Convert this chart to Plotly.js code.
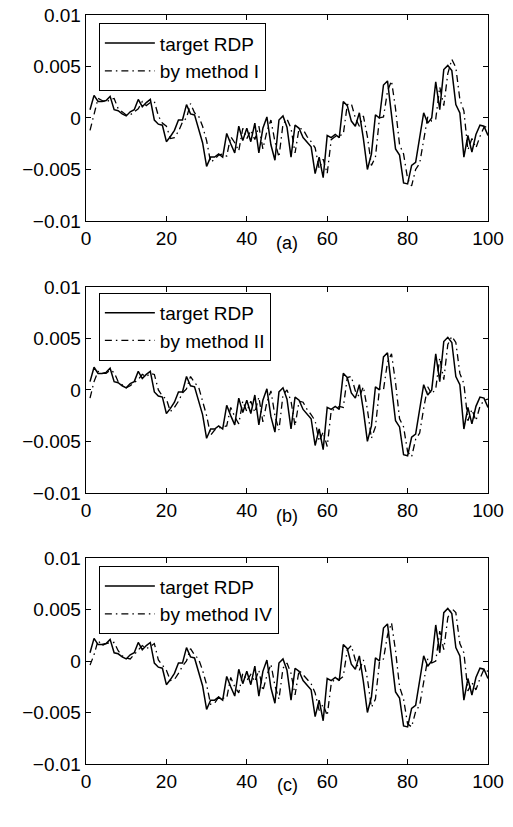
<!DOCTYPE html>
<html>
<head>
<meta charset="utf-8">
<script src="https://cdn.plot.ly/plotly-3.0.1.min.js"></script>
<style>
  html, body { margin: 0; padding: 0; background: #fff; }
  #chart { width: 513px; height: 827px; }
</style>
</head>
<body>
<div id="chart"></div>
<script>
// Sample index 1..100
const steps = Array.from({ length: 100 }, (_, i) => i + 1);

// Target RDP series (units of 1e-3)
const targetRDP = [
  0.8, 2.2, 1.6, 1.6, 1.7, 2.1, 0.8, 0.7, 0.4, 0.2,
  0.6, 0.8, 1.8, 1.1, 1.5, 1.8, -0.2, -0.6, -0.7, -2.3,
  -1.8, -1.2, -0.2, -0.2, 1.3, 0.4, 0.3, -1.0, -2.4, -4.7,
  -3.8, -3.8, -3.5, -3.8, -1.5, -2.5, -3.4, -0.8, -2.2, -1.0,
  -2.3, -0.5, -3.4, -1.0, 0.1, -2.6, -4.1, -0.2, 0.2, -0.9,
  -3.8, -0.7, -1.0, -1.9, -2.3, -2.8, -5.4, -3.8, -5.8, -1.7,
  -1.9, -1.6, -1.9, 1.6, 1.2, -0.3, -0.8, 0.5, -2.0, -5.0,
  -3.5, 0.3, 0.0, 3.2, 3.6, 0.1, -3.0, -3.6, -6.3, -6.4,
  -4.6, -4.3, -1.7, 0.5, -0.5, 0.0, 3.5, 0.8, 4.7, 5.1,
  4.6, 1.3, 0.5, -3.8, -1.7, -3.3, -1.6, -0.7, -0.8, -1.7
];

// Predictions (units of 1e-3)
const methodI = [
  -1.2, 0.5, 1.9, 1.7, 1.5, 1.8, 1.9, 0.9, 0.6, 0.3,
  0.3, 0.6, 0.9, 1.6, 1.2, 1.5, 1.6, 0.2, -0.5, -0.8,
  -2.0, -1.9, -1.3, -0.4, 0.0, 1.4, 0.5, 0.2, -0.8, -2.2,
  -4.3, -4.0, -3.6, -3.5, -3.7, -1.8, -2.4, -3.2, -1.0, -2.0,
  -1.2, -2.1, -0.8, -3.0, -1.3, -0.2, -2.3, -3.8, -0.6, -0.1,
  -1.0, -3.4, -1.0, -1.1, -1.8, -2.3, -2.9, -4.9, -4.0, -5.4,
  -2.1, -1.8, -1.7, -1.6, 1.3, 1.4, 0.0, -0.8, 0.2, -1.8,
  -4.6, -3.8, 0.0, 0.1, 2.6, 3.6, 0.9, -2.6, -3.5, -5.9,
  -6.6, -5.0, -4.4, -2.0, 0.1, -0.3, -0.1, 3.0, 1.2, 4.3,
  5.7, 4.9, 1.8, 0.7, -3.1, -2.0, -2.9, -1.8, -0.9, -0.8
];

const methodII = [
  -0.8, 0.8, 1.8, 1.6, 1.6, 1.9, 1.7, 0.8, 0.5, 0.2,
  0.4, 0.7, 1.0, 1.5, 1.3, 1.6, 1.5, 0.0, -0.6, -0.9,
  -2.1, -1.7, -1.1, -0.3, 0.1, 1.3, 0.7, 0.3, -1.0, -2.5,
  -4.4, -3.9, -3.7, -3.6, -3.5, -1.7, -2.6, -3.3, -1.1, -2.1,
  -1.1, -2.2, -0.7, -3.1, -1.2, -0.1, -2.5, -3.9, -0.5, 0.0,
  -1.1, -3.5, -1.1, -1.2, -1.9, -2.4, -3.0, -5.0, -4.1, -5.5,
  -2.0, -1.9, -1.6, -1.7, 1.2, 1.3, -0.1, -0.7, 0.3, -1.9,
  -4.7, -3.6, 0.1, 0.0, 2.7, 3.5, 0.7, -2.8, -3.6, -6.0,
  -6.5, -4.8, -4.2, -1.8, 0.3, -0.4, 0.1, 3.1, 1.0, 4.4,
  5.2, 4.6, 1.6, 0.6, -3.0, -1.9, -3.0, -1.6, -1.0, -0.9
];

const methodIV = [
  -0.4, 0.6, 2.0, 1.5, 1.7, 1.8, 1.8, 1.0, 0.5, 0.3,
  0.2, 0.6, 1.1, 1.5, 1.2, 1.4, 1.7, 0.1, -0.4, -0.9,
  -1.9, -1.8, -1.2, -0.5, 0.0, 1.2, 0.6, 0.2, -0.9, -2.3,
  -4.2, -4.1, -3.5, -3.6, -3.6, -1.6, -2.5, -3.1, -1.2, -1.9,
  -1.3, -2.0, -0.9, -2.9, -1.4, -0.3, -2.4, -3.7, -0.7, -0.2,
  -1.2, -3.3, -0.9, -1.3, -1.7, -2.2, -3.1, -4.8, -4.2, -5.3,
  -2.2, -1.7, -1.8, -1.5, 1.1, 1.5, 0.1, -0.9, 0.1, -1.7,
  -4.5, -3.7, -0.1, 0.2, 2.5, 3.7, 1.0, -2.5, -3.7, -6.1,
  -6.4, -4.9, -4.3, -1.9, 0.2, -0.2, 0.0, 2.9, 1.1, 4.2,
  5.1, 4.7, 1.7, 0.8, -2.9, -2.1, -2.8, -1.7, -0.8, -1.0
];

const xTicks = [0, 20, 40, 60, 80, 100];
const yTicks = [-0.01, -0.005, 0, 0.005, 0.01];
const yTickText = ['\u22120.01', '\u22120.005', '0', '0.005', '0.01'];
const panelLabels = ['(a)', '(b)', '(c)'];
const methodNames = ['by method I', 'by method II', 'by method IV'];
const methodSeries = [methodI, methodII, methodIV];

const toUnits = arr => arr.map(v => v / 1000);

const FONT = 'Liberation Sans, Arial, Helvetica, sans-serif';

const traces = [];
const suffix = ['', '2', '3'];
for (let p = 0; p < 3; p++) {
  const legendId = 'legend' + suffix[p];
  traces.push({
    x: steps, y: toUnits(targetRDP), type: 'scatter', mode: 'lines',
    name: 'target RDP',
    line: { color: '#000', width: 1.5 },
    xaxis: 'x' + suffix[p], yaxis: 'y' + suffix[p],
    legend: legendId
  });
  traces.push({
    x: steps, y: toUnits(methodSeries[p]), type: 'scatter', mode: 'lines',
    name: methodNames[p],
    line: { color: '#000', width: 1.3, dash: '7px,4px,1.5px,4px' },
    xaxis: 'x' + suffix[p], yaxis: 'y' + suffix[p],
    legend: legendId
  });
}

function xAxis(domainAnchor) {
  return {
    domain: [0, 1], range: [0, 100], anchor: domainAnchor,
    tickvals: xTicks, ticks: 'inside', ticklen: 5, tickwidth: 1, tickcolor: '#000',
    showline: true, linecolor: '#000', linewidth: 1.3, mirror: 'ticks',
    showgrid: false, zeroline: false,
    tickfont: { family: FONT, size: 19, color: '#000' }
  };
}
function yAxis(domain, anchor) {
  return {
    domain: domain, range: [-0.01, 0.01], anchor: anchor,
    tickvals: yTicks, ticktext: yTickText, ticks: 'inside', ticklen: 5, tickwidth: 1, tickcolor: '#000',
    showline: true, linecolor: '#000', linewidth: 1.3, mirror: 'ticks',
    showgrid: false, zeroline: false,
    tickfont: { family: FONT, size: 19, color: '#000' }
  };
}
function legendBox(y) {
  return {
    x: 0.032, y: y, xanchor: 'left', yanchor: 'top',
    bgcolor: '#fff', bordercolor: '#000', borderwidth: 1,
    font: { family: FONT, size: 19, color: '#000' },
    tracegroupgap: 0, itemwidth: 50
  };
}

const layout = {
  width: 513, height: 827,
  margin: { l: 86, r: 25, t: 15, b: 63 },
  paper_bgcolor: '#fff', plot_bgcolor: '#fff',
  showlegend: true,
  xaxis: xAxis('y'), yaxis: yAxis([0.725, 1], 'x'),
  xaxis2: xAxis('y2'), yaxis2: yAxis([0.362, 0.637], 'x2'),
  xaxis3: xAxis('y3'), yaxis3: yAxis([0, 0.275], 'x3'),
  legend: legendBox(0.989),
  legend2: legendBox(0.629),
  legend3: legendBox(0.264),
  annotations: panelLabels.map((t, i) => ({
    text: t, xref: 'paper', yref: 'paper', x: 0.5,
    y: [0.6956, 0.3311, -0.028][i],
    xanchor: 'center', yanchor: 'middle', showarrow: false,
    font: { family: FONT, size: 18, color: '#000' }
  }))
};

Plotly.newPlot('chart', traces, layout, { displayModeBar: false, staticPlot: true });
</script>
</body>
</html>
